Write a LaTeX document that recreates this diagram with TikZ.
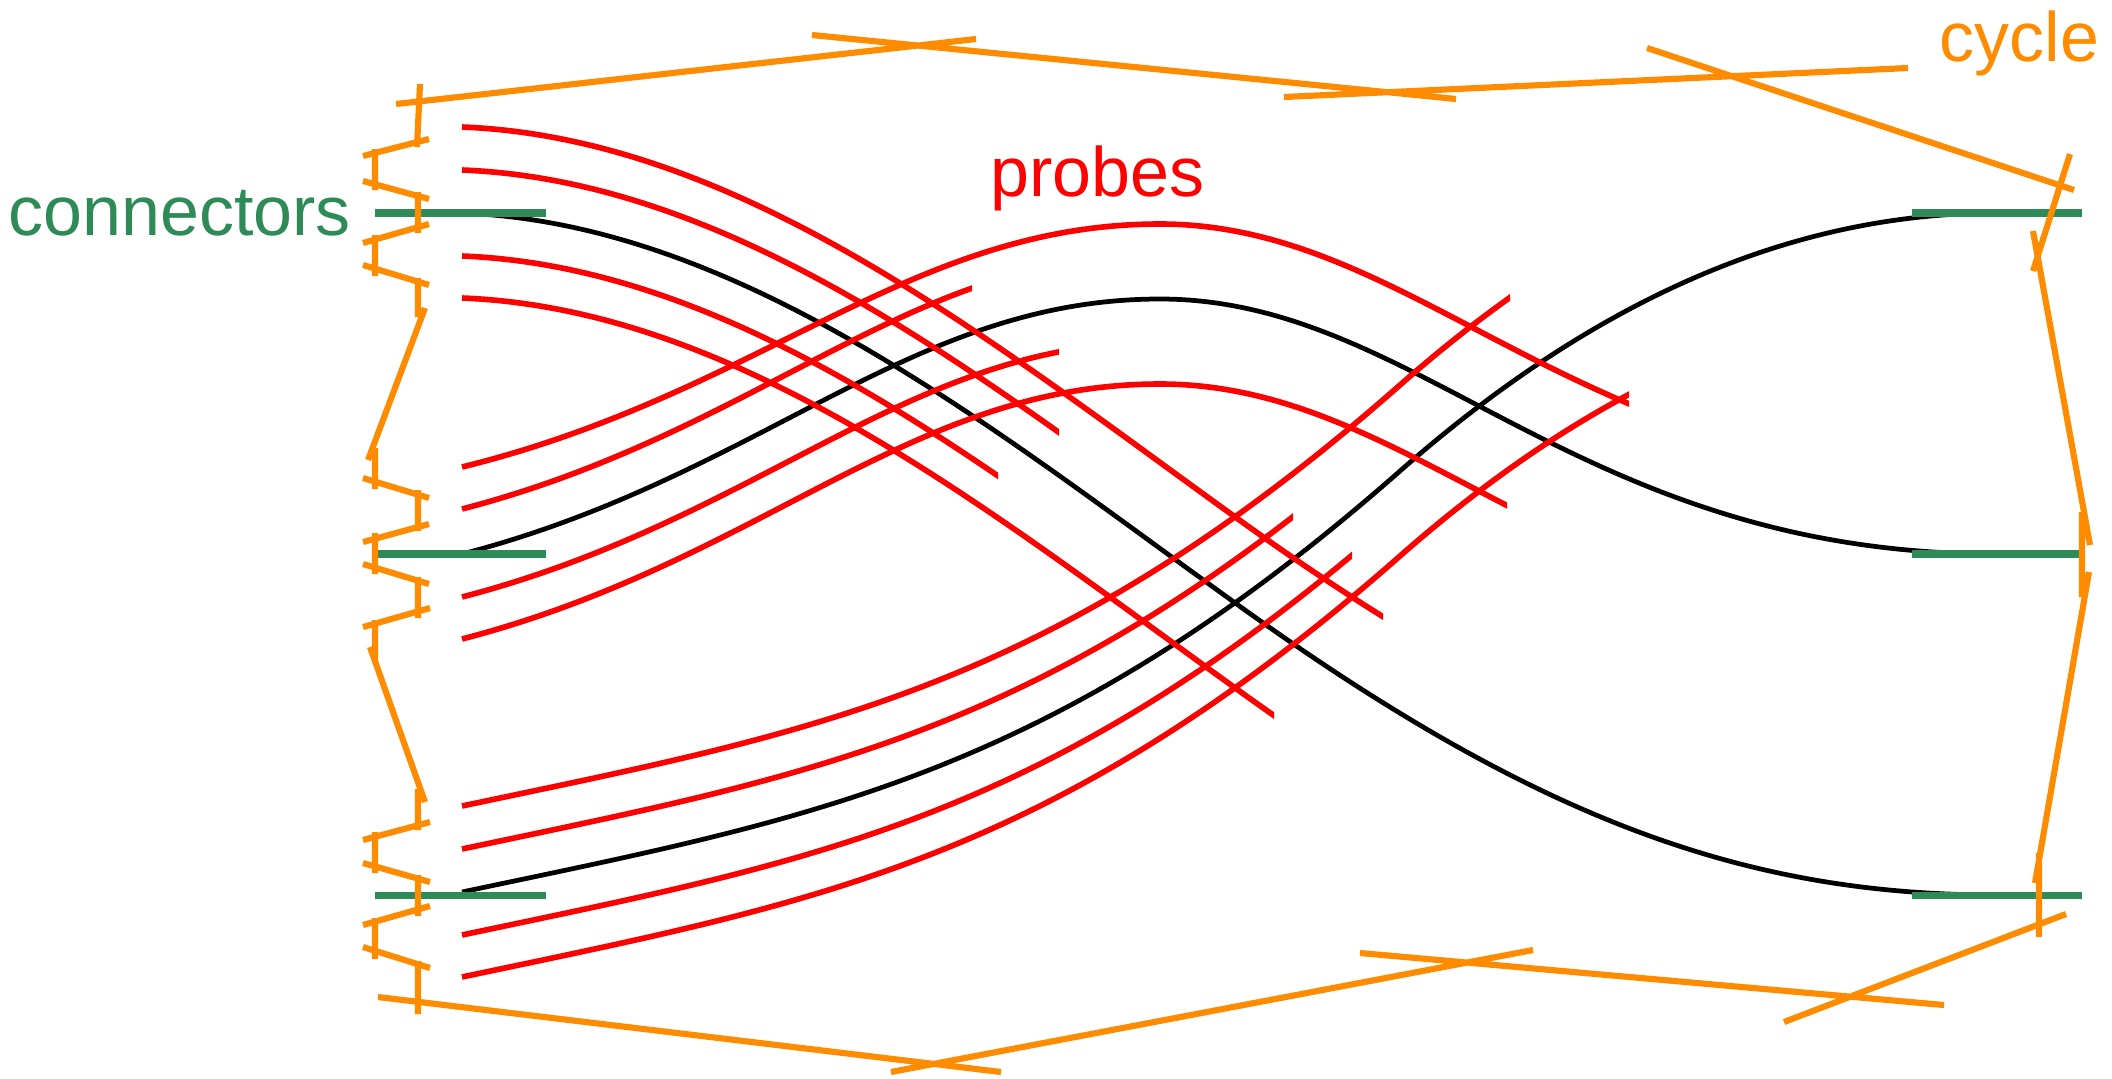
\documentclass[tikz,border=0pt]{standalone}
\usepackage{fontspec}
\setmainfont{Liberation Sans}
\definecolor{cycorange}{RGB}{255,140,0}
\definecolor{conngreen}{RGB}{46,139,87}
\tikzset{
  cyc/.style={cycorange, line width=1.75pt},
  conn/.style={conngreen, line width=2pt},
  wire/.style={black, line width=1.35pt},
  probe/.style={red, line width=1.6pt},
  lab/.style={inner sep=0pt, anchor=base west, font=\fontsize{19.9}{24}\selectfont}
}
% the three wires, in pixel units
\newcommand{\wireA}{(462,213) .. controls (742,224) and (993,429) .. (1238,605) .. controls (1538,821) and (1747,895) .. (1997,895)}
\newcommand{\wireB}{(462,554) .. controls (762,476) and (909,299) .. (1160,299) .. controls (1420,299) and (1577,554) .. (1997,554)}
\newcommand{\wireC}{(462,892) .. controls (812,818) and (1050,779) .. (1400,471) .. controls (1600,295) and (1797,213) .. (1997,213)}
\begin{document}
\begin{tikzpicture}[x=0.01cm, y=-0.01cm]
\useasboundingbox (0,0) rectangle (2112,1078);

% black wires
\draw[wire] \wireA;
\draw[wire] \wireB;
\draw[wire] \wireC;

% probes round the upper wire
\begin{scope} \clip (0,0) rectangle (1383,1078); \draw[probe, shift={(0,-86)}] \wireA; \end{scope}
\begin{scope} \clip (0,0) rectangle (1059,1078); \draw[probe, shift={(0,-43)}] \wireA; \end{scope}
\begin{scope} \clip (0,0) rectangle (998,1078); \draw[probe, shift={(0,43)}] \wireA; \end{scope}
\begin{scope} \clip (0,0) rectangle (1274,1078); \draw[probe, shift={(0,85)}] \wireA; \end{scope}

% probes round the middle wire
\begin{scope} \clip (0,0) rectangle (1629,1078);
  \draw[probe] (462,467) .. controls (762,393) and (909,224) .. (1160,224) .. controls (1420,224) and (1577,479) .. (1997,479); \end{scope}
\begin{scope} \clip (0,0) rectangle (972,1078); \draw[probe, shift={(0,-45)}] \wireB; \end{scope}
\begin{scope} \clip (0,0) rectangle (1059,1078); \draw[probe, shift={(0,43)}] \wireB; \end{scope}
\begin{scope} \clip (0,0) rectangle (1507,1078); \draw[probe, shift={(0,85)}] \wireB; \end{scope}

% probes round the lower wire
\begin{scope} \clip (0,0) rectangle (1510,1078); \draw[probe, shift={(0,-86)}] \wireC; \end{scope}
\begin{scope} \clip (0,0) rectangle (1293,1078); \draw[probe, shift={(0,-43)}] \wireC; \end{scope}
\begin{scope} \clip (0,0) rectangle (1352,1078); \draw[probe, shift={(0,43)}] \wireC; \end{scope}
\begin{scope} \clip (0,0) rectangle (1629,1078); \draw[probe, shift={(0,85)}] \wireC; \end{scope}

% connectors
\coordinate (cl1) at (375,213);
\coordinate (cl2) at (375,554);
\coordinate (cl3) at (375,895);
\coordinate (cr1) at (1912,213);
\coordinate (cr2) at (1912,554);
\coordinate (cr3) at (1912,895);
\draw[conn] (cl1) -- ++(171,0);
\draw[conn] (cl2) -- ++(171,0);
\draw[conn] (cl3) -- ++(171,0);
\draw[conn] (cr1) -- ++(170,0);
\draw[conn] (cr2) -- ++(170,0);
\draw[conn] (cr3) -- ++(170,0);

% the cycle
\draw[cyc] (396,104) -- (976,39) (812,35) -- (1456,99) (1284,97) -- (1908,68) (1647,48) -- (2074,190);
\draw[cyc] (2070,154) -- (2033,271) (2033,231) -- (2090,545) (2082,512) -- (2082,597) (2089,572) -- (2035,883) (2039,853) -- (2039,937);
\draw[cyc] (2066,914) -- (1784,1022) (1944,1005) -- (1360,953) (1533,950) -- (891,1072) (1001,1072) -- (378,997);
\draw[cyc] (420,84) -- (417,147) (429,139) -- (363,156) (375,149) -- (375,190) (363,181) -- (429,199) (418,192) -- (418,233)
  (429,224) -- (363,243) (375,235) -- (375,276) (363,265) -- (429,285) (418,278) -- (418,317) (425,308) -- (368,460);
\draw[cyc] (375,448) -- (375,489) (363,478) -- (429,498) (418,490) -- (418,531) (429,524) -- (363,542) (375,533) -- (375,574)
  (363,564) -- (429,584) (418,577) -- (418,618) (430,608) -- (363,627) (375,620) -- (375,660) (370,647) -- (425,802);
\draw[cyc] (418,789) -- (418,830) (430,822) -- (363,840) (375,832) -- (375,873) (363,863) -- (430,882) (418,875) -- (418,916)
  (430,906) -- (363,925) (375,918) -- (375,959) (363,947) -- (430,968) (418,961) -- (418,1014);

% labels
\node[lab, text=conngreen] (connlabel) at (8,235) {connectors};
\node[lab, text=red] (probelabel) at (990,196) {probes};
\node[lab, text=cycorange] (cyclelabel) at (1939,61) {cycle};
\end{tikzpicture}
\end{document}
